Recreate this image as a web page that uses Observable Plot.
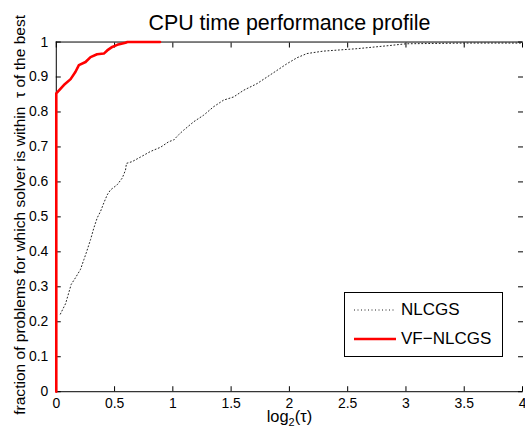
<!DOCTYPE html>
<html><head><meta charset="utf-8">
<script src="https://cdn.jsdelivr.net/npm/d3@7"></script>
<script src="https://cdn.jsdelivr.net/npm/@observablehq/plot@0.6"></script>
<style>
html,body{margin:0;padding:0;background:#fff;overflow:hidden;width:525px;height:428px;}
#wrap{position:relative;width:525px;height:428px;font-family:"Liberation Sans",Arial,sans-serif;}
#legend{position:absolute;left:344px;top:292px;width:157px;height:63px;border:1px solid #000;background:#fff;}
.row{position:absolute;left:0;height:20px;display:flex;align-items:center;font-size:17px;color:#000;}
</style>
</head><body><div id="wrap"><div id="chart"></div><div id="legend"></div></div>
<script>
const title = "CPU time performance profile";
const xLabelBase = "log";
const xLabelSub = "2";
const xLabelRest = "(\u03c4)";
const yLabel = "fraction of problems for which solver is within  \u03c4 of the best";
const seriesNames = ["NLCGS", "VF\u2212NLCGS"];
const xTicks = [0, 0.5, 1, 1.5, 2, 2.5, 3, 3.5, 4];
const yTicks = [0, 0.1, 0.2, 0.3, 0.4, 0.5, 0.6, 0.7, 0.8, 0.9, 1];

const nlcgsX = [0.035,0.08,0.128,0.165,0.208,0.237,0.26,0.294,0.322,0.351,0.38,0.408,0.437,0.465,0.523,0.566,0.594,0.602,0.651,0.722,0.808,0.894,0.965,1.008,1.05,1.093,1.179,1.265,1.35,1.436,1.522,1.607,1.722,1.808,1.894,1.979,2.065,2.15,2.29,2.58,2.86,3.0,3.5,4.0];
const nlcgsY = [0.222,0.252,0.307,0.326,0.35,0.378,0.40,0.435,0.468,0.497,0.516,0.54,0.563,0.577,0.592,0.611,0.634,0.653,0.658,0.671,0.687,0.699,0.715,0.72,0.735,0.748,0.772,0.791,0.815,0.834,0.843,0.862,0.881,0.90,0.919,0.938,0.955,0.967,0.974,0.981,0.99,0.995,0.997,0.997];

const vfX = [0,0,0.065,0.123,0.165,0.194,0.251,0.294,0.35,0.408,0.437,0.48,0.523,0.594,0.61,0.89];
const vfY = [0,0.853,0.877,0.894,0.915,0.934,0.943,0.957,0.965,0.967,0.976,0.986,0.992,0.998,1.0,1.0];

const nlcgs = nlcgsX.map((x,i)=>({x, y:nlcgsY[i]}));
const vf = vfX.map((x,i)=>({x, y:vfY[i]}));
const fmt = d3.format("~g");
const xLabelPlain = xLabelBase + xLabelSub + xLabelRest;

const chart = Plot.plot({
  width: 527, height: 428,
  marginLeft: 56, marginRight: 3, marginTop: 41.7, marginBottom: 35.3,
  style: {fontFamily: "'Liberation Sans', Arial, sans-serif", fontSize: "14px", color: "#000", background: "#fff"},
  x: {domain: [0, 4]},
  y: {domain: [0, 1]},
  marks: [
    Plot.ruleY([0, 1], {stroke: "#000", strokeWidth: 1}),
    Plot.ruleX([0], {stroke: "#000", strokeWidth: 1}),
    Plot.axisX(xTicks, {anchor: "bottom", tickSize: -5, tickFormat: () => "", label: null}),
    Plot.axisX(xTicks, {anchor: "top", tickSize: -5, tickFormat: () => "", label: null}),
    Plot.axisY(yTicks, {anchor: "left", tickSize: -5, tickFormat: () => "", label: null}),
    Plot.axisY(yTicks, {anchor: "right", tickSize: -5, tickFormat: () => "", label: null}),
    Plot.axisX(xTicks, {anchor: "bottom", tickSize: 0, tickPadding: 6, tickFormat: fmt, label: null, fontSize: 14}),
    Plot.axisY(yTicks, {anchor: "left", tickSize: 0, tickPadding: 8, tickFormat: fmt, label: null, fontSize: 14}),
    Plot.lineY(nlcgs, {x: "x", y: "y", stroke: "#222", strokeWidth: 1, strokeDasharray: "1,2.5"}),
    Plot.lineY(vf, {x: "x", y: "y", stroke: "#ff0000", strokeWidth: 2.6}),
    Plot.text([title], {frameAnchor: "top", dy: -12.5, lineAnchor: "bottom", fontSize: 21.5, fill: "#000"}),
    Plot.text([xLabelPlain], {frameAnchor: "bottom", dy: 30, lineAnchor: "bottom", fontSize: 16.5, fill: "#000", className: "xlab"}),
    Plot.text([yLabel], {frameAnchor: "left", rotate: -90, dx: -31, dy: -2, textAnchor: "middle", lineAnchor: "bottom", fontSize: 15.6, fill: "#000"})
  ]
});
document.getElementById("chart").appendChild(chart);

// subscript in the x label
d3.select(chart).selectAll(".xlab text").each(function() {
  const t = d3.select(this);
  t.text(null);
  t.append("tspan").text(xLabelBase);
  t.append("tspan").attr("font-size", "11").attr("dy", "4").text(xLabelSub);
  t.append("tspan").attr("dy", "-4").text(xLabelRest);
});

const legend = document.getElementById("legend");
const styles = [{stroke: "#222", width: 1, dash: "1,2.5"}, {stroke: "#ff0000", width: 2.6, dash: null}];
const rowTops = [6.5, 36];
seriesNames.forEach((name, i) => {
  const row = document.createElement("div");
  row.className = "row";
  row.style.top = rowTops[i] + "px";
  const s = styles[i];
  row.innerHTML = `<svg width="56" height="20" style="display:block"><line x1="9" x2="51" y1="10" y2="10" stroke="${s.stroke}" stroke-width="${s.width}" ${s.dash ? `stroke-dasharray="${s.dash}"` : ""}/></svg><span>${name}</span>`;
  legend.appendChild(row);
});
</script>
</body></html>
